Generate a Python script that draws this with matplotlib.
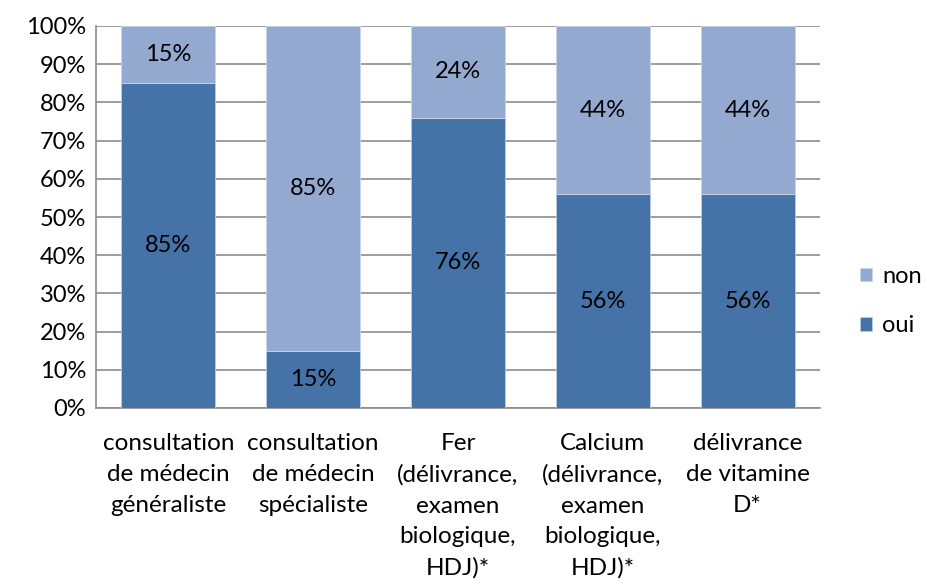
import numpy as np
import matplotlib
matplotlib.use('Agg')
import matplotlib.pyplot as plt

categories = ['consultation\nde médecin\ngénéraliste',
              'consultation\nde médecin\nspécialiste',
              'Fer\n(délivrance,\nexamen\nbiologique,\nHDJ)*',
              'Calcium\n(délivrance,\nexamen\nbiologique,\nHDJ)*',
              'délivrance\nde vitamine\nD*']
oui = [85, 15, 76, 56, 56]
non = [15, 85, 24, 44, 44]

col_oui = '#4572A7'
col_non = '#93A9CF'

plt.rcParams['font.family'] = ['Lato', 'DejaVu Sans']
plt.rcParams['font.size'] = 17

fig = plt.figure(figsize=(9.28, 5.85), dpi=100)
ax = fig.add_axes([96/928, 1 - 408/585, (820 - 96)/928, (408 - 26)/585])

x = np.arange(len(categories))
w = 0.65
b1 = ax.bar(x, oui, w, color=col_oui, edgecolor='#B9CBE4', linewidth=0.6, label='oui', zorder=3)
b2 = ax.bar(x, non, w, bottom=oui, color=col_non, edgecolor='#C9D6EA', linewidth=0.6, label='non', zorder=3)

for i in range(len(x)):
    ax.text(x[i], oui[i] / 2, f'{oui[i]}%', ha='center', va='center', zorder=4)
    ax.text(x[i], oui[i] + non[i] / 2, f'{non[i]}%', ha='center', va='center', zorder=4)

ax.set_xlim(-0.5, len(x) - 0.5)
ax.set_ylim(0, 100)
ax.set_yticks(np.arange(0, 101, 10))
ax.set_yticklabels([f'{v}%' for v in range(0, 101, 10)])
ax.yaxis.grid(True, color='#8C8C8C', linewidth=1.2, zorder=0)
ax.set_xticks(x)
ax.set_xticklabels(categories, linespacing=1.58, va='top', fontsize=17.5)
ax.tick_params(axis='x', length=0, pad=18)
ax.tick_params(axis='y', length=0, pad=7)
for s in ['top', 'right']:
    ax.spines[s].set_visible(False)
for s in ['left', 'bottom']:
    ax.spines[s].set_color('#8C8C8C')
    ax.spines[s].set_linewidth(1.2)

leg = fig.legend(handles=[b2, b1], labels=['non', 'oui'], loc='center left',
                 bbox_to_anchor=(860/928, 1 - 301/585), frameon=False,
                 borderpad=0, borderaxespad=0,
                 handlelength=0.5, handleheight=0.5, handletextpad=0.45, labelspacing=1.2)

fig.savefig('out.png', dpi=100)
